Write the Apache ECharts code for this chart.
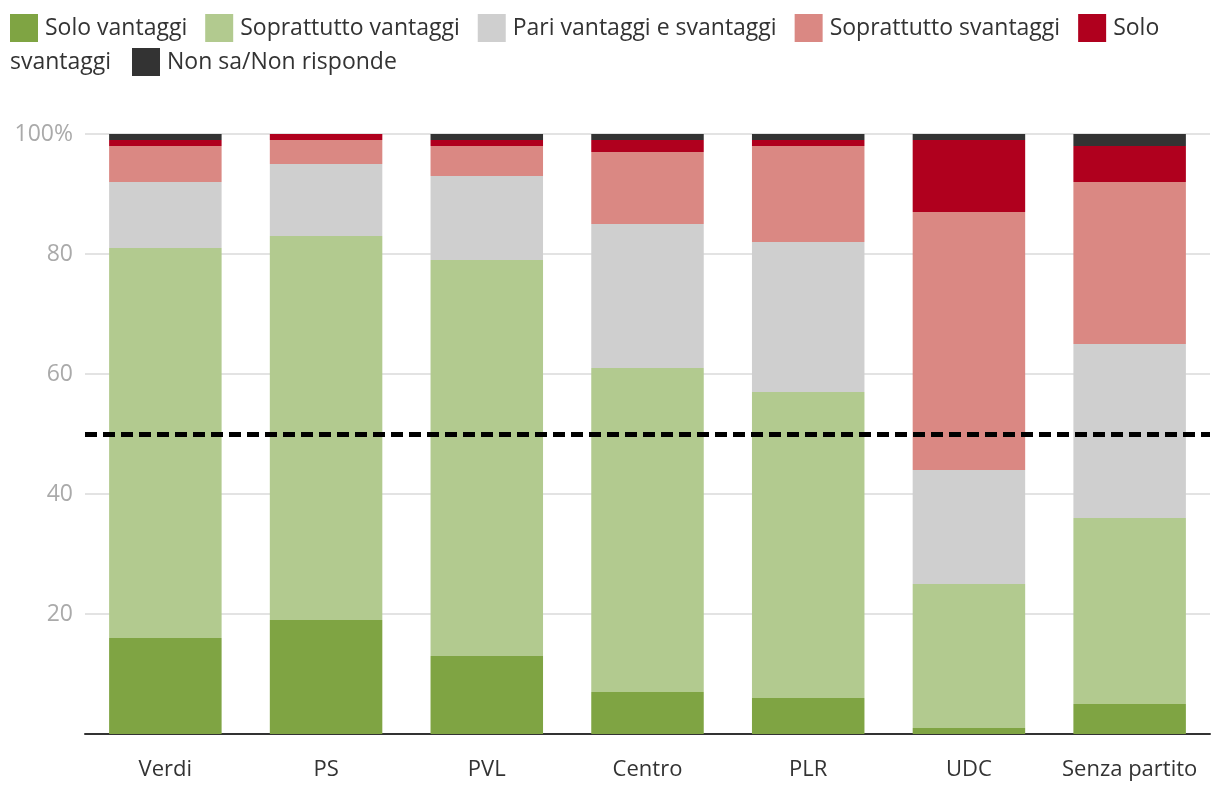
<!DOCTYPE html>
<html>
<head>
<meta charset="utf-8">
<script src="https://cdn.jsdelivr.net/npm/echarts@6/dist/echarts.min.js"></script>
<style>
html,body{margin:0;padding:0;background:#fff;}
#chart{width:1220px;height:802px;}
</style>
</head>
<body>
<div id="chart"></div>
<script>
const categories = ['Verdi', 'PS', 'PVL', 'Centro', 'PLR', 'UDC', 'Senza partito'];
const seriesNames = ['Solo vantaggi', 'Soprattutto vantaggi', 'Pari vantaggi e svantaggi', 'Soprattutto svantaggi', 'Solo svantaggi', 'Non sa/Non risponde'];
const soloVantaggi        = [16, 19, 13, 7, 6, 1, 5];
const soprattuttoVantaggi = [65, 64, 66, 54, 51, 24, 31];
const pari                = [11, 12, 14, 24, 25, 19, 29];
const soprattuttoSvant    = [6, 4, 5, 12, 16, 43, 27];
const soloSvantaggi       = [1, 1, 1, 2, 1, 12, 6];
const nonSa               = [1, 0, 1, 1, 1, 1, 2];
const referenceLine = 50;
const colors = ['#7fa443', '#b2ca8f', '#cfcfcf', '#da8883', '#b0001e', '#333333'];

const values = [soloVantaggi, soprattuttoVantaggi, pari, soprattuttoSvant, soloSvantaggi, nonSa];
const FONT = '"Open Sans", sans-serif';

const series = values.map((v, i) => ({
  name: seriesNames[i],
  type: 'bar',
  stack: 'total',
  barWidth: '70%',
  itemStyle: { color: colors[i] },
  emphasis: { disabled: true },
  data: v
}));
series.push({
  name: 'ref',
  type: 'line',
  data: [],
  z: 10,
  markLine: {
    silent: true,
    symbol: 'none',
    label: { show: false },
    lineStyle: { color: '#000', type: [12, 6], width: 5 },
    data: [{ yAxis: referenceLine }]
  }
});

const legendCommon = {
  itemWidth: 28,
  itemHeight: 28,
  itemGap: 18,
  icon: 'rect',
  textStyle: { fontFamily: FONT, fontSize: 23, color: '#333', padding: [0, 0, 0, 2] },
  padding: 0,
  selectedMode: false
};

const chart = echarts.init(document.getElementById('chart'));
chart.setOption({
  animation: false,
  textStyle: { fontFamily: FONT },
  legend: [
    Object.assign({}, legendCommon, {
      left: 10, top: 14,
      data: seriesNames.slice(0, 5),
      formatter: n => n === 'Solo svantaggi' ? 'Solo' : n
    }),
    Object.assign({}, legendCommon, {
      left: 132, top: 48,
      data: seriesNames.slice(5)
    })
  ],
  graphic: [{
    type: 'text',
    x: 10, y: 62,
    style: { text: 'svantaggi', font: '23px ' + FONT, fill: '#333', verticalAlign: 'middle' }
  }],
  grid: { left: 85, right: 10, top: 134, bottom: 68 },
  xAxis: {
    type: 'category',
    data: categories,
    axisLine: { lineStyle: { color: '#333', width: 2 } },
    axisTick: { alignWithLabel: true, interval: 0, length: 8, lineStyle: { color: '#333', width: 2 } },
    axisLabel: { fontFamily: FONT, fontSize: 22, color: '#333', margin: 25, interval: 0, hideOverlap: false }
  },
  yAxis: {
    type: 'value',
    min: 0, max: 100, interval: 20,
    axisLine: { show: false },
    axisTick: { show: false },
    splitLine: { lineStyle: { color: '#e3e3e3', width: 2 } },
    axisLabel: {
      fontFamily: FONT, fontSize: 23, color: '#aaaaaa', margin: 12,
      formatter: v => v === 0 ? '' : (v === 100 ? '100%' : String(v))
    }
  },
  series: series
});
</script>
</body>
</html>
